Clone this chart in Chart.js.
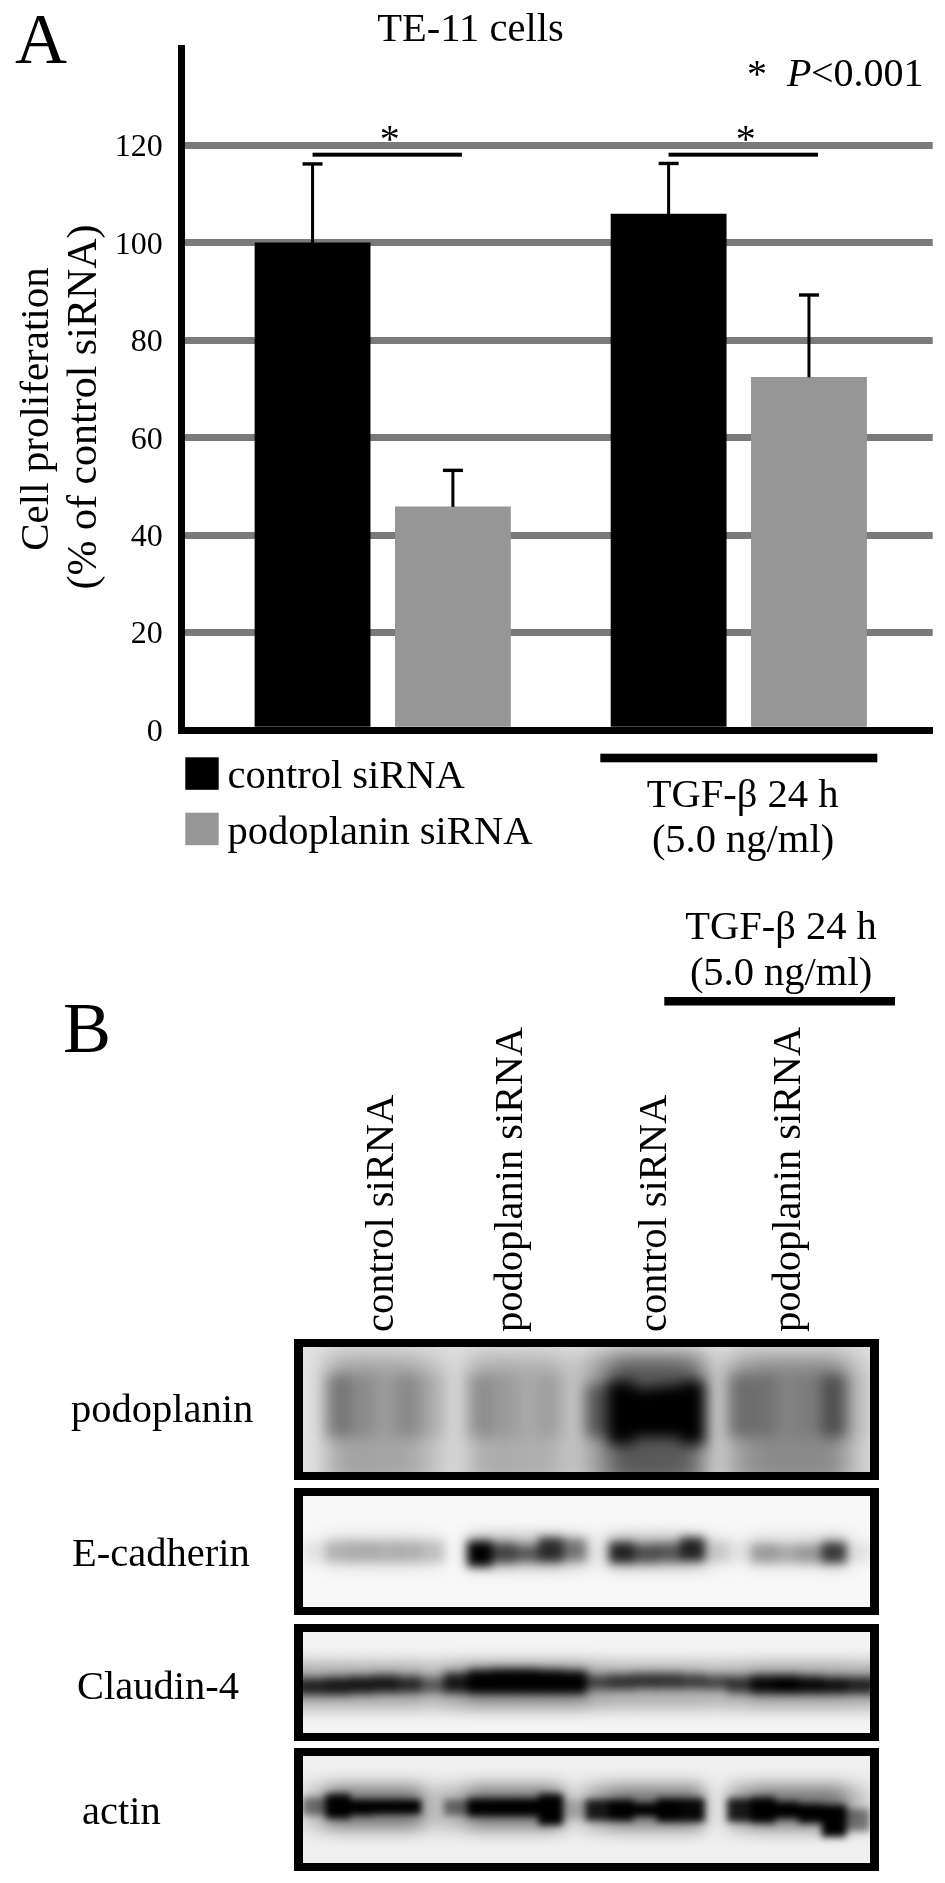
<!DOCTYPE html>
<html>
<head>
<meta charset="utf-8">
<title>TE-11 cells</title>
<script src="https://cdn.jsdelivr.net/npm/chart.js@4/dist/chart.umd.min.js"></script>
<style>
html, body { margin: 0; padding: 0; background: #fff; }
#page { position: relative; width: 945px; height: 1883px; overflow: hidden; }
#page > canvas { position: absolute; left: 0; top: 0; }
.blot { position: absolute; left: 294px; width: 585px; box-sizing: border-box; border-style: solid; border-color: #000; border-width: 8px 9px; overflow: hidden; }
.blot canvas { position: absolute; left: -24px; top: -24px; }
</style>
</head>
<body>
<div id="page">
  <canvas id="proliferation" width="945" height="1883"></canvas>
  <div class="blot" id="blot-podoplanin" style="top:1339px;height:141px;background:#e2e2e2"></div>
  <div class="blot" id="blot-cadherin" style="top:1488px;height:127px;background:#f8f8f8"></div>
  <div class="blot" id="blot-claudin" style="top:1624px;height:117px;background:#f4f4f4"></div>
  <div class="blot" id="blot-actin" style="top:1748px;height:123px;background:#f0f0f0"></div>
</div>
<script>
// Panel A values
var groups = [1, 2];
var seriesNames = ["control siRNA", "podoplanin siRNA"];
var controlValues = [100, 105.9];
var podoplaninValues = [45.8, 72.4];
var controlErrorTop = [116.2, 116.3];
var podoplaninErrorTop = [53.3, 89.3];
var tickMax = 120;
var significanceLevel = 118.1;

// Panel B band strength, one entry per slot across the membrane (0 = nothing, 1 = black)
var podoplaninHalo = [0,0,.25,.28,.26,.26,.15,.02,.22,.24,.22,.22,.1,.3,.6,.6,.6,.55,.05,.3,.38,.38,.38,.38,.12,0];
var podoplaninCore = [0,0,.3,.15,.06,.18,.1,0,.2,.1,.03,.1,0,.45,1,1,1,1,0,.3,.2,.05,.1,.45,.05,0];
var podoplaninSpan = [[22,72],[22,72],[22,72],[22,72],[22,72],[22,72],[22,72],[22,72],[22,72],[22,72],[22,72],[22,72],[22,72],[30,72],[27,78],[33,72],[31,72],[27,78],[22,72],[22,72],[22,72],[22,72],[22,72],[22,72],[22,72],[22,72]];
var cadherinHalo = [0,.03,.12,.13,.13,.13,.1,0,.3,.32,.28,.32,.22,.06,.3,.3,.3,.3,.08,.03,.12,.12,.14,.22,.04,0];
var cadherinCore = [0,.05,.18,.2,.18,.18,.14,0,1,.6,.5,.75,.4,0,.8,.55,.5,.8,.12,.05,.28,.22,.28,.7,.05,0];
var cadherinSpan = [[42,58],[42,58],[41,59],[41,59],[41,59],[41,59],[41,59],[42,58],[41,63],[43,60],[45,59],[38,59],[39,58],[42,58],[42,60],[44,60],[43,59],[38,58],[41,59],[41,59],[43,60],[44,60],[44,60],[42,60],[43,59],[42,58]];
var claudinHalo = [.3,.3,.3,.3,.3,.3,.25,.32,.4,.4,.4,.4,.4,.3,.28,.28,.28,.28,.25,.28,.32,.32,.32,.32,.3,.3];
var claudinCore = [.7,.8,.85,.85,.85,.75,.5,.85,1,1,1,1,1,.6,.7,.7,.7,.65,.6,.7,.95,1,.95,.9,.8,.7];
var claudinSpan = [[46,62],[46,62],[45,62],[44,61],[43,60],[44,60],[45,60],[41,60],[38,61],[37,61],[37,61],[38,61],[39,61],[43,57],[42,57],[41,56],[41,56],[42,56],[43,57],[44,60],[43,61],[43,61],[44,61],[45,61],[45,61],[45,61]];
var actinHalo = [0,.2,.5,.5,.5,.5,.2,.25,.5,.5,.5,.5,.1,.35,.5,.5,.5,.5,0,.35,.5,.5,.5,.5,.2,0];
var actinCore = [0,.45,1,1,1,1,0,.45,1,1,1,1,.2,.85,1,1,1,.95,0,.85,1,1,1,1,.45,0];
var actinSpan = [[42,54],[39,55],[36,58],[41,55],[41,54],[41,54],[42,54],[41,55],[40,56],[40,56],[40,56],[36,64],[41,59],[41,60],[41,60],[44,56],[40,61],[40,61],[42,54],[40,61],[39,62],[43,58],[45,62],[46,75],[50,70],[42,54]];

var serif = "'Liberation Serif'";

// Text placed around the two panels
var pageLabels = [
  { text: "A", x: 15, y: 63, size: 72 },
  { text: "TE-11 cells", x: 470.5, y: 41, size: 40.5, align: "center" },
  { text: "*", x: 757, y: 87, size: 40, align: "center" },
  { text: "P", x: 787, y: 86, size: 40, italic: true },
  { text: "<0.001", x: 811, y: 86, size: 40 },
  { text: "Cell proliferation", x: 48.2, y: 409, size: 41, align: "center", vertical: true },
  { text: "(% of control siRNA)", x: 96.4, y: 407, size: 42, align: "center", vertical: true },
  { text: "TGF-\u03b2 24 h", x: 742.6, y: 807, size: 40.5, align: "center" },
  { text: "(5.0 ng/ml)", x: 743, y: 852, size: 40.5, align: "center" },
  { text: "TGF-\u03b2 24 h", x: 781, y: 939, size: 40.5, align: "center" },
  { text: "(5.0 ng/ml)", x: 781, y: 985, size: 40.5, align: "center" },
  { text: "B", x: 63, y: 1052, size: 72 },
  { text: "control siRNA", x: 392.5, y: 1332, size: 40.5, vertical: true },
  { text: "podoplanin siRNA", x: 521.5, y: 1332, size: 40.5, vertical: true },
  { text: "control siRNA", x: 666, y: 1332, size: 40.5, vertical: true },
  { text: "podoplanin siRNA", x: 800, y: 1332, size: 40.5, vertical: true },
  { text: "podoplanin", x: 71, y: 1422, size: 40.5 },
  { text: "E-cadherin", x: 72, y: 1566, size: 40.5 },
  { text: "Claudin-4", x: 77, y: 1699, size: 40.5 },
  { text: "actin", x: 82, y: 1824, size: 40.5 }
];

function points(values) {
  return values.map(function (v, i) { return { x: groups[i], y: v }; });
}

// Error bars, significance bars, legend and free text
var panelExtras = {
  id: "panelExtras",
  afterDatasetsDraw: function (chart) {
    var ctx = chart.ctx;
    var y = chart.scales.y;
    var tops = [controlErrorTop, podoplaninErrorTop];

    ctx.save();
    ctx.fillStyle = "#000";
    chart.data.datasets.forEach(function (ds, d) {
      chart.getDatasetMeta(d).data.forEach(function (bar, i) {
        var top = y.getPixelForValue(tops[d][i]);
        ctx.fillRect(bar.x - 1.5, top, 3, bar.y - top);
        ctx.fillRect(bar.x - 10, top - 1.7, 20, 3.4);
      });
    });

    // significance bars run from the control bar centre to just past the podoplanin centre
    var sigY = y.getPixelForValue(significanceLevel);
    chart.getDatasetMeta(0).data.forEach(function (bar, i) {
      var end = chart.getDatasetMeta(1).data[i].x + 9;
      ctx.fillRect(bar.x, sigY - 2, end - bar.x, 4);
      ctx.font = "40px " + serif;
      ctx.textAlign = "center";
      ctx.textBaseline = "alphabetic";
      ctx.fillText("*", (bar.x + end) / 2 + 2.5, 152);
    });

    // corner where the two axis lines meet
    ctx.fillRect(178, chart.chartArea.bottom - 3.5, 7, 7);

    // legend
    chart.data.datasets.forEach(function (ds, d) {
      var top = d === 0 ? 757.3 : 812.7;
      ctx.fillStyle = ds.backgroundColor;
      ctx.fillRect(185.3, top, 33.4, 32.5);
      ctx.fillStyle = "#000";
      ctx.textAlign = "left";
      ctx.font = "40.5px " + serif;
      ctx.fillText(ds.label, 227.5, top + 31);
    });

    // treatment bars
    ctx.fillRect(600.3, 753.7, 277, 8.6);
    ctx.fillRect(664.3, 997, 230.7, 8.5);

    pageLabels.forEach(function (l) {
      ctx.save();
      ctx.font = (l.italic ? "italic " : "") + l.size + "px " + serif;
      ctx.textAlign = l.align || "left";
      ctx.textBaseline = "alphabetic";
      ctx.translate(l.x, l.y);
      if (l.vertical) ctx.rotate(-Math.PI / 2);
      ctx.fillText(l.text, 0, 0);
      ctx.restore();
    });
    ctx.restore();
  }
};

new Chart(document.getElementById("proliferation"), {
  type: "bar",
  data: {
    datasets: [
      { label: seriesNames[0], data: points(controlValues), backgroundColor: "#000000" },
      { label: seriesNames[1], data: points(podoplaninValues), backgroundColor: "#969696" }
    ]
  },
  options: {
    responsive: false,
    animation: false,
    layout: { padding: { top: 48, right: 12.3 } },
    plugins: { legend: { display: false }, title: { display: false }, tooltip: { enabled: false } },
    datasets: { bar: { barThickness: 140.35, maxBarThickness: 115.2 } },
    scales: {
      x: {
        type: "linear",
        offset: false,
        min: 0.4343,
        max: 2.5446,
        afterFit: function (s) { s.height = 1153; },
        ticks: { display: false },
        grid: { display: false },
        border: { display: true, color: "#000", width: 7, z: 1 }
      },
      y: {
        min: 0,
        max: 140,
        afterFit: function (s) { s.width = 181.3; },
        afterBuildTicks: function (s) {
          s.ticks = s.ticks.filter(function (t) { return t.value <= tickMax; });
        },
        ticks: {
          stepSize: 20,
          padding: 18.6,
          labelOffset: 2.5,
          color: "#000",
          font: { family: serif, size: 32 }
        },
        grid: { color: "#7a7a7a", lineWidth: 7, drawTicks: false },
        border: { display: true, color: "#000", width: 7, z: 1 }
      }
    }
  },
  plugins: [panelExtras]
});

// A membrane is two small charts of floating bars on top of each other, a wide soft
// halo and a tighter core, softened by a blur on each canvas
function blotLayer(holder, spans, strength, blur, height) {
  var canvas = document.createElement("canvas");
  canvas.width = 614;
  canvas.height = height + 48;
  canvas.style.filter = "blur(" + blur + "px)";
  holder.appendChild(canvas);
  var margin = 24 * 100 / height;
  new Chart(canvas, {
    type: "bar",
    data: {
      labels: strength.map(function (v, i) { return i; }),
      datasets: [{
        data: spans,
        backgroundColor: strength.map(function (a) { return "rgba(0,0,0," + a + ")"; })
      }]
    },
    options: {
      responsive: false,
      animation: false,
      layout: { padding: 0 },
      plugins: { legend: { display: false }, tooltip: { enabled: false } },
      datasets: { bar: { barPercentage: 1, categoryPercentage: 1, borderWidth: 0 } },
      scales: {
        x: { display: false },
        y: { display: false, min: -margin, max: 100 + margin, reverse: true }
      }
    }
  });
}

function drawBlot(id, haloSpan, halo, core, span, height, haloBlur, coreBlur) {
  var holder = document.getElementById(id);
  blotLayer(holder, halo.map(function () { return haloSpan; }), halo, haloBlur, height);
  blotLayer(holder, span, core, coreBlur, height);
}

drawBlot("blot-podoplanin", [6, 112], podoplaninHalo, podoplaninCore, podoplaninSpan, 125, 11, 7);
drawBlot("blot-cadherin", [36, 64], cadherinHalo, cadherinCore, cadherinSpan, 111, 8, 5);
drawBlot("blot-claudin", [30, 76], claudinHalo, claudinCore, claudinSpan, 101, 8, 4);
drawBlot("blot-actin", [28, 68], actinHalo, actinCore, actinSpan, 107, 9, 3.5);
</script>
</body>
</html>
